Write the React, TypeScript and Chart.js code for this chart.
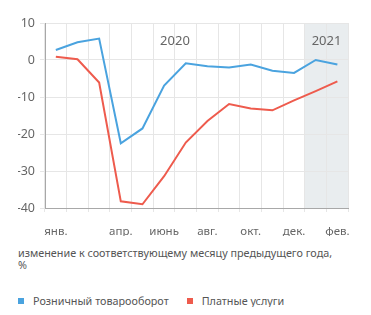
import React, { useEffect, useRef } from "react";
import { Chart, registerables } from "chart.js";

Chart.register(...registerables);

const categories = ["янв.", "фев.", "мар.", "апр.", "май", "июнь", "июль", "авг.", "сен.", "окт.", "ноя.", "дек.", "янв.", "фев."];
const tickLabels = ["янв.", "", "", "апр.", "", "июнь", "", "авг.", "", "окт.", "", "дек.", "", "фев."];
const monthYears = ["2020", "2020", "2020", "2020", "2020", "2020", "2020", "2020", "2020", "2020", "2020", "2020", "2021", "2021"];
const retail = [2.7, 4.8, 5.8, -22.5, -18.5, -6.9, -0.9, -1.7, -2.0, -1.2, -2.9, -3.5, 0.0, -1.2];
const services = [0.9, 0.2, -6.1, -38.2, -39.0, -31.4, -22.3, -16.5, -11.9, -13.1, -13.6, -10.9, -8.4, -5.8];
const seriesNames = ["Розничный товарооборот", "Платные услуги"];
const shadedYear = "2021";
const caption = ["изменение к соответствующему месяцу предыдущего года,", "%"];

const FONT = "'Noto Sans', 'Open Sans', sans-serif";
const BLUE = "#4aa3df";
const RED = "#ee5b4d";
const TEXT = "#666";
const GRID = "#e6e6e6";
const AXIS = "#a8a8a8";
const SHADE = "#e9edef";

const yearPlugin = {
  id: "yearPlugin",
  beforeDraw(chart: any) {
    const { ctx, chartArea, scales } = chart;
    const x = scales.x;
    const idx = monthYears.map((y, i) => (y === shadedYear ? i : -1)).filter((i) => i >= 0);
    if (!idx.length) return;
    const half = (x.getPixelForValue(1) - x.getPixelForValue(0)) / 2;
    const left = x.getPixelForValue(idx[0]) - half;
    const right = x.getPixelForValue(idx[idx.length - 1]) + half;
    ctx.save();
    ctx.fillStyle = SHADE;
    ctx.fillRect(left, chartArea.top, right - left, chartArea.bottom - chartArea.top);
    ctx.restore();
  },
  beforeDatasetsDraw(chart: any) {
    const { ctx, scales } = chart;
    const x = scales.x;
    const y = scales.y;
    const years = Array.from(new Set(monthYears));
    ctx.save();
    ctx.font = `13px ${FONT}`;
    ctx.fillStyle = TEXT;
    ctx.textAlign = "center";
    ctx.textBaseline = "middle";
    years.forEach((yr) => {
      const idx = monthYears.map((v, i) => (v === yr ? i : -1)).filter((i) => i >= 0);
      const cx = (x.getPixelForValue(idx[0]) + x.getPixelForValue(idx[idx.length - 1])) / 2;
      ctx.fillText(yr, cx, y.getPixelForValue(5));
    });
    ctx.restore();
  },
};

export default function App() {
  const ref = useRef<HTMLCanvasElement | null>(null);
  useEffect(() => {
    if (!ref.current) return;
    const chart = new Chart(ref.current, {
      type: "line",
      data: {
        labels: categories,
        datasets: [
          { label: seriesNames[0], data: retail, borderColor: BLUE, backgroundColor: BLUE, borderWidth: 2, pointRadius: 0, tension: 0 },
          { label: seriesNames[1], data: services, borderColor: RED, backgroundColor: RED, borderWidth: 2, pointRadius: 0, tension: 0 },
        ],
      },
      options: {
        animation: false,
        responsive: true,
        maintainAspectRatio: false,
        layout: { padding: { left: 10, right: 12, top: 15, bottom: 0 } },
        plugins: { legend: { display: false }, title: { display: false }, tooltip: { enabled: false } },
        scales: {
          x: {
            type: "category",
            offset: true,
            afterFit: (s: any) => { s.height = 28; },
            grid: { color: GRID, offset: true, tickLength: 4 },
            border: { color: AXIS },
            ticks: {
              autoSkip: false,
              maxRotation: 0,
              padding: 13,
              color: TEXT,
              font: { family: FONT, size: 11.5 },
              callback: (_v: any, i: number) => tickLabels[i],
            },
          },
          y: {
            min: -40,
            max: 10,
            afterFit: (s: any) => { s.width = 27; },
            grid: { color: GRID, tickLength: 5 },
            border: { color: AXIS },
            ticks: { stepSize: 10, padding: 5, color: TEXT, font: { family: FONT, size: 12.5 } },
          },
        },
      },
      plugins: [yearPlugin],
    });
    return () => chart.destroy();
  }, []);

  return (
    <div style={{ width: 355, fontFamily: FONT, color: "#555" }}>
      <div style={{ position: "relative", width: 355, height: 228 }}>
        <canvas ref={ref} />
      </div>
      <div style={{ marginTop: 11, paddingLeft: 10, fontSize: 10.8, lineHeight: "12px" }}>
        {caption.map((c, i) => (
          <div key={i}>{c}</div>
        ))}
      </div>
      <div style={{ marginTop: 24, paddingLeft: 10, display: "flex", alignItems: "center", fontSize: 10.8, lineHeight: "12px", color: "#555" }}>
        {seriesNames.map((n, i) => (
          <div key={n} style={{ display: "flex", alignItems: "center", marginRight: 18 }}>
            <span style={{ width: 6, height: 6, background: i === 0 ? BLUE : RED, marginRight: 9, display: "inline-block" }} />
            <span>{n}</span>
          </div>
        ))}
      </div>
    </div>
  );
}
